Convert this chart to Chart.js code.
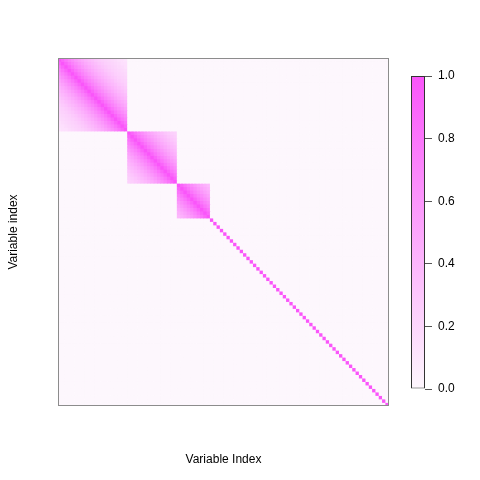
<!DOCTYPE html>
<html>
<head>
<meta charset="utf-8">
<script src="https://cdn.jsdelivr.net/npm/chart.js@4.4.1/dist/chart.umd.min.js"></script>
<style>
  html, body { margin: 0; padding: 0; background: #fff; }
  #wrap { position: relative; width: 480px; height: 480px; }
  #heat { position: absolute; left: 0; top: 0; }
  #bar { position: absolute; left: 400px; top: 60px; }
</style>
</head>
<body>
<div id="wrap">
  <canvas id="heat" width="480" height="480"></canvas>
  <canvas id="bar" width="80" height="345"></canvas>
</div>
<script>
// ---- data ----
const nVars = 100;
// correlated blocks along the diagonal (sizes), rest are independent
const blockSizes = [21, 15, 10];
// correlation inside a block by distance from the diagonal (lag 0..20)
const lagCorr = [1.00, 0.90, 0.81, 0.73, 0.66, 0.59, 0.53, 0.48, 0.43, 0.39,
                 0.35, 0.31, 0.28, 0.25, 0.23, 0.21, 0.19, 0.17, 0.15, 0.14, 0.12];
const barTicks = [0.0, 0.2, 0.4, 0.6, 0.8, 1.0];

const lowCol = [253, 247, 253];
const highCol = [250, 85, 250];

function colorFor(v) {
    const c = lowCol.map((lo, k) => Math.round(lo + (highCol[k] - lo) * v));
    return `rgb(${c[0]},${c[1]},${c[2]})`;
}

// block id of every variable (-1 = on its own)
const blockOf = [];
blockSizes.forEach((s, b) => { for (let i = 0; i < s; i++) blockOf.push(b); });
while (blockOf.length < nVars) blockOf.push(-1);

function corr(i, j) {
    if (i === j) return lagCorr[0];
    if (blockOf[i] >= 0 && blockOf[i] === blockOf[j]) return lagCorr[Math.abs(i - j)];
    return 0;
}

const labels = [];
for (let j = 0; j < nVars; j++) labels.push(String(j + 1));

// one dataset per row, each cell a floating bar [row, row+1]
const datasets = [];
for (let i = 0; i < nVars; i++) {
    const data = [];
    const colors = [];
    for (let j = 0; j < nVars; j++) {
        data.push([i, i + 1]);
        colors.push(colorFor(corr(i, j)));
    }
    datasets.push({
        data,
        backgroundColor: colors,
        borderWidth: 0,
        barPercentage: 1,
        categoryPercentage: 1
    });
}

const boxPlugin = {
    id: 'box',
    afterDatasetsDraw(chart) {
        const a = chart.chartArea;
        const ctx = chart.ctx;
        ctx.save();
        ctx.strokeStyle = '#8c8c8c';
        ctx.lineWidth = 1;
        ctx.strokeRect(Math.round(a.left) + 0.5, Math.round(a.top) + 0.5,
            Math.round(a.right - a.left) - 1, Math.round(a.bottom - a.top) - 1);
        ctx.restore();
    }
};

Chart.defaults.font.family = '"Liberation Sans", Arial, sans-serif';
Chart.defaults.font.size = 12;
Chart.defaults.color = '#000';

new Chart(document.getElementById('heat'), {
    type: 'bar',
    data: { labels, datasets },
    options: {
        responsive: false,
        animation: false,
        layout: { padding: { top: 58, right: 91, left: 0, bottom: 0 } },
        plugins: { legend: { display: false }, tooltip: { enabled: false } },
        scales: {
            x: {
                stacked: true,
                ticks: { display: false },
                grid: { display: false, drawTicks: false },
                border: { display: false },
                title: { display: true, text: 'Variable Index', padding: { top: 0, bottom: 13 } },
                afterFit(s) { s.height = 74; }
            },
            y: {
                type: 'linear',
                min: 0,
                max: nVars,
                reverse: true,
                ticks: { display: false },
                grid: { display: false, drawTicks: false },
                border: { display: false },
                title: { display: true, text: 'Variable index', padding: { top: 6, bottom: 0 } },
                afterFit(s) { s.width = 58; }
            }
        }
    },
    plugins: [boxPlugin]
});

// ---- colour key ----
new Chart(document.getElementById('bar'), {
    type: 'bar',
    data: {
        labels: ['key'],
        datasets: [{
            data: [[0, 1]],
            barPercentage: 1,
            categoryPercentage: 1,
            borderWidth: 1,
            borderColor: '#333',
            borderSkipped: false,
            inflateAmount: 0,
            backgroundColor(c) {
                const a = c.chart.chartArea;
                if (!a) return colorFor(0.5);
                const g = c.chart.ctx.createLinearGradient(0, a.bottom, 0, a.top);
                g.addColorStop(0, colorFor(0));
                g.addColorStop(1, colorFor(1));
                return g;
            }
        }]
    },
    options: {
        responsive: false,
        animation: false,
        layout: { padding: { top: 16, left: 11, right: 0, bottom: 16 } },
        plugins: { legend: { display: false }, tooltip: { enabled: false } },
        scales: {
            x: { display: false },
            y: {
                position: 'right',
                min: 0,
                max: 1,
                afterBuildTicks(s) { s.ticks = barTicks.map(v => ({ value: v })); },
                ticks: { padding: 6, callback: v => Number(v).toFixed(1) },
                grid: { drawOnChartArea: false, drawTicks: true, tickLength: 7, color: '#555' },
                border: { display: false },
                afterFit(s) { s.width = 55; }
            }
        }
    }
});
</script>
</body>
</html>
